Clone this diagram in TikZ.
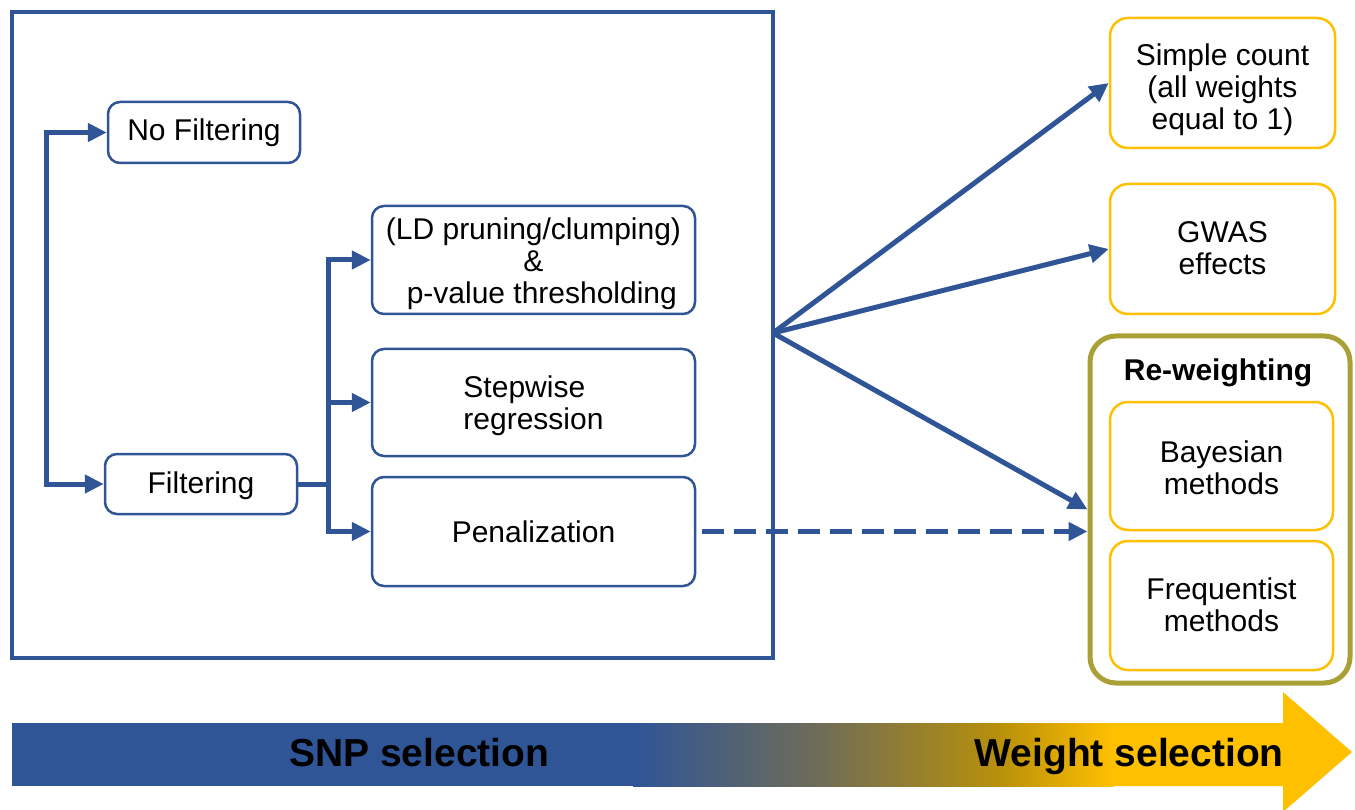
\documentclass[tikz,border=0pt]{standalone}
\usepackage{fontspec}
\setmainfont{Liberation Sans}
\usetikzlibrary{arrows.meta}
\definecolor{cblue}{HTML}{2F5597}
\definecolor{cyel}{HTML}{FFC000}
\definecolor{colive}{HTML}{A9A135}
\definecolor{cgold}{HTML}{B8900A}
\definecolor{cmid}{HTML}{6E6C58}
\newcommand\dnc[2]{\raisebox{-#1}[\height][\depth]{\begin{tabular}{@{}c@{}}#2\end{tabular}}}
\newcommand\dnl[2]{\raisebox{-#1}[\height][\depth]{\begin{tabular}{@{}l@{}}#2\end{tabular}}}
\begin{document}
\begin{tikzpicture}[x=1pt,y=-1pt,
  txt/.style={font=\fontsize{30}{32}\selectfont, align=center, inner sep=0pt},
  bbox/.style={txt, draw=cblue, line width=2.5pt, rounded corners=12pt},
  ybox/.style={txt, draw=cyel, line width=2.5pt, rounded corners=18pt},
  flow/.style={draw=cblue, line width=5pt, line join=miter, -{Triangle[length=19pt,width=18pt]}},
  plain/.style={draw=cblue, line width=5pt},
]
\useasboundingbox (0,0) rectangle (1355,810);

% outer selection frame
\draw[cblue, line width=4pt] (12,12) rectangle (773,658);

% left nodes
\node[bbox, minimum width=192pt, minimum height=61pt] (nofilt) at (204,132.5) {\dnc{2pt}{No Filtering}};
\node[bbox, minimum width=192pt, minimum height=60pt] (filt) at (201,484) {\dnc{3pt}{Filtering}};
\node[bbox, minimum width=323pt, minimum height=108pt] (ld) at (533.5,260) {\dnc{5pt}{(LD pruning/clumping)\\\&\\\ \ p-value thresholding}};
\node[bbox, minimum width=323pt, minimum height=107pt] (stepw) at (533.5,402.5) {\dnl{5pt}{Stepwise\\regression}};
\node[bbox, minimum width=323pt, minimum height=109pt] (pen) at (533.5,531.5) {Penalization};

% right nodes
\node[ybox, minimum width=225pt, minimum height=130pt] (simple) at (1222.5,83) {\dnc{8pt}{Simple count\\(all weights\\equal to 1)}};
\node[ybox, minimum width=225pt, minimum height=130pt] (gwas) at (1222.5,249) {\dnc{3pt}{GWAS\\effects}};
\node[draw=colive, line width=5pt, rounded corners=26pt, minimum width=260pt, minimum height=347pt, inner sep=0pt] (rew) at (1220,509.5) {};
\node[txt, font=\bfseries\fontsize{30}{32}\selectfont, anchor=base] (rewt) at (1218,380) {Re-weighting};
\node[ybox, minimum width=223pt, minimum height=128pt] (bayes) at (1221.5,466) {\dnc{6pt}{Bayesian\\methods}};
\node[ybox, minimum width=223pt, minimum height=129pt] (freq) at (1221.5,605.5) {\dnc{4pt}{Frequentist\\methods}};

% left connectors
\draw[flow, {Triangle[length=19pt,width=18pt]}-{Triangle[length=19pt,width=18pt]}] (nofilt.west) -- ++(-60,0) |- (filt.west);
\coordinate (br) at (328,484);
\draw[plain] (filt.east) -- (br);
\draw[flow] (br) |- (ld.west);
\draw[flow] (br) |- (pen.west);
\draw[flow] (br |- stepw.west) -- (stepw.west);

% fan
\coordinate (fan) at (773,333);
\draw[flow] (fan) -- (simple.west);
\draw[flow] (fan) -- (gwas.west);
\draw[flow] (fan) -- (rew.west);
\draw[flow, dash pattern=on 22pt off 10pt] ([xshift=6pt]pen.east) -- (rew.west |- pen.east);

% bottom gradient arrow
\fill[cblue] (12,723) rectangle (634,786);
\shade[left color=cblue, right color=cgold, middle color=cmid, shading angle=90] (633,723) rectangle (1001,786);
\shade[left color=cgold, right color=cyel, shading angle=90] (1000,723) rectangle (1114,786);
\fill[cyel] (1113,723) -- (1283,723) -- (1283,692) -- (1352,752) -- (1283,812) -- (1283,786) -- (1113,786) -- cycle;
\node[font=\bfseries\fontsize{39}{44}\selectfont, anchor=base west, inner sep=0pt] (snp) at (289,766) {SNP selection};
\node[font=\bfseries\fontsize{39}{44}\selectfont, anchor=base east, inner sep=0pt] (wsel) at (1284,766) {Weight selection};
\end{tikzpicture}
\end{document}
